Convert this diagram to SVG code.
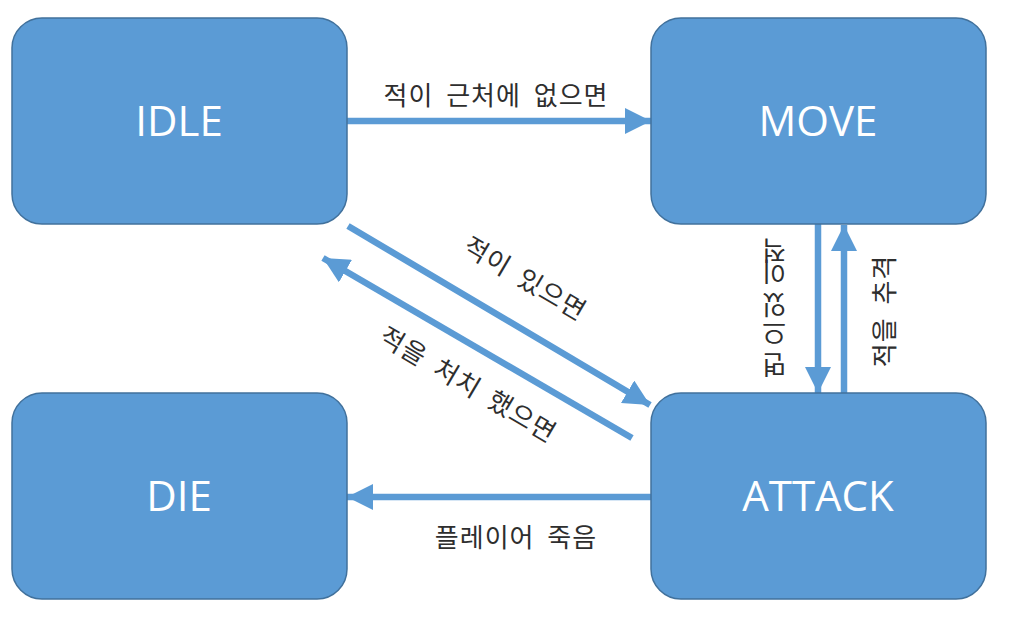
<svg xmlns="http://www.w3.org/2000/svg" width="1011" height="622" viewBox="0 0 1011 622">
<style>
.node rect{fill:#5B9BD5;stroke:#41719C;stroke-width:1.5}
.node text{fill:#ffffff;font-family:"Open Sans","Noto Sans",sans-serif;font-size:42px;text-anchor:middle}
.edge line{stroke:#5B9BD5;stroke-width:6.5}
.lbl{fill:#2e2e2e;font-family:"Noto Sans CJK KR",sans-serif;font-size:26px;letter-spacing:1px}
.mid{text-anchor:middle}
</style>
<defs>
<marker id="ah" markerUnits="userSpaceOnUse" markerWidth="26" markerHeight="26" viewBox="0 0 26 26" refX="26" refY="13" orient="auto">
<path d="M0,0 L26,13 L0,26 Z" fill="#5B9BD5"/>
</marker>
</defs>
<rect width="1011" height="622" fill="#ffffff"/>
<g id="connectors" class="edge">
<line x1="347" y1="121" x2="651" y2="121" marker-end="url(#ah)"/>
<line x1="348" y1="226" x2="650" y2="405" marker-end="url(#ah)"/>
<line x1="632" y1="438" x2="323" y2="258" marker-end="url(#ah)"/>
<line x1="818" y1="224" x2="818" y2="393" marker-end="url(#ah)"/>
<line x1="844" y1="393" x2="844" y2="225" marker-end="url(#ah)"/>
<line x1="651" y1="497" x2="347" y2="497" marker-end="url(#ah)"/>
</g>
<g id="labels">
<text class="lbl mid" x="496" y="105" word-spacing="6">적이 근처에 없으면</text>
<text class="lbl mid" transform="translate(525,279) rotate(30.6)" x="0" y="9" word-spacing="6">적이 있으면</text>
<text class="lbl mid" transform="translate(468,385) rotate(30.6)" x="0" y="9" word-spacing="6">적을 처치 했으면</text>
<text class="lbl" style="letter-spacing:0" font-size="24" x="786 786 786 786 786 786" y="241 262 280 295 323 355" rotate="180">적이 있으면</text>
<text class="lbl mid" transform="translate(885,311) rotate(-90)" x="0" y="9" word-spacing="6">적을 추격</text>
<text class="lbl mid" x="516" y="547" word-spacing="6">플레이어 죽음</text>
</g>
<g id="IDLE" class="node"><rect x="12" y="18" width="335" height="206" rx="30"/><text x="179" y="136">IDLE</text></g>
<g id="MOVE" class="node"><rect x="651" y="18" width="335" height="206" rx="30"/><text x="818" y="136">MOVE</text></g>
<g id="DIE" class="node"><rect x="12" y="393" width="335" height="206" rx="30"/><text x="179" y="511">DIE</text></g>
<g id="ATTACK" class="node"><rect x="651" y="393" width="335" height="206" rx="30"/><text x="818" y="511">ATTACK</text></g>
</svg>
